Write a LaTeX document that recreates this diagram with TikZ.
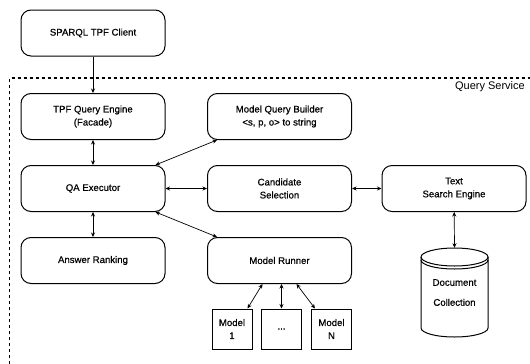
\documentclass[tikz,border=0pt]{standalone}
\usepackage{fontspec}
\setmainfont{Liberation Sans}
\newfontfamily\medfont{Liberation Sans}[FakeBold=0.6]
\usetikzlibrary{arrows.meta}

\begin{document}
\begin{tikzpicture}[x=1pt,y=-1pt,>={Stealth[length=4.5pt,width=4pt]},
  box/.style={draw,line width=1pt,rounded corners=10pt,minimum width=144pt,minimum height=46pt,align=center,font=\medfont\fontsize{9.6}{13}\selectfont},
  model/.style={draw,line width=1pt,minimum width=40pt,minimum height=40pt,align=center,font=\medfont\fontsize{9.6}{13}\selectfont},
  link/.style={line width=0.7pt}]
\useasboundingbox (0,0) rectangle (530,364);
\draw[line width=1.1pt,dash pattern=on 3.5pt off 2.5pt] (9.5,364) -- (9.5,78) -- (530,78);
\node[anchor=east,inner sep=0pt,font=\fontsize{11}{13}\selectfont] (qs) at (525,87) {Query Service};

\node[box] (client) at (93,33) {SPARQL TPF Client};
\node[box] (tpf) at (93,116.5) {TPF Query Engine\\(Facade)};
\node[box] (mqb) at (279.5,116.5) {Model Query Builder\\<s, p, o> to string};
\node[box] (qa) at (93,188.5) {QA Executor};
\node[box] (cand) at (279.5,188.5) {Candidate\\Selection};
\node[box] (text) at (454,188.5) {Text\\Search Engine};
\node[box] (rank) at (93,260.5) {Answer Ranking};
\node[box] (runner) at (279.5,260.5) {Model Runner};
\node[model] (m1) at (232,329) {Model\\1};
\node[model] (dots) at (281.5,329) {...};
\node[model] (mN) at (331.5,329) {Model\\N};

\node[minimum width=67pt,minimum height=89pt,align=center,font=\medfont\fontsize{9.6}{20}\selectfont] (doc) at (454.5,292.5) {Document\\Collection};
\draw[line width=1pt] (421,257) -- (421,328) arc[start angle=180,end angle=360,x radius=33.5pt,y radius=9pt] -- (488,257);
\draw[line width=1pt] (454.5,257) ellipse[x radius=33.5pt,y radius=9pt];
\draw[line width=1pt] (421,260) arc[start angle=180,end angle=360,x radius=33.5pt,y radius=9pt];

\draw[link,->] (client) -- (tpf);
\draw[link,<->] (tpf) -- (qa);
\draw[link,<->] ([xshift=-10pt]qa.north east) -- ([xshift=10pt]mqb.south west);
\draw[link,<->] (qa) -- (cand);
\draw[link,<->] (cand) -- (text);
\draw[link,<->] ([xshift=-10pt]qa.south east) -- ([xshift=10pt]runner.north west);
\draw[link,<->] (qa) -- (rank);
\draw[link,<->] (text) -- (doc.north);
\draw[link,<->] ([xshift=-17pt]runner.south) -- ([xshift=-5pt]m1.north east);
\draw[link,<->] (runner.south -| dots.north) -- (dots.north);
\draw[link,<->] ([xshift=17pt]runner.south) -- ([xshift=4pt]mN.north west);
\end{tikzpicture}
\end{document}
